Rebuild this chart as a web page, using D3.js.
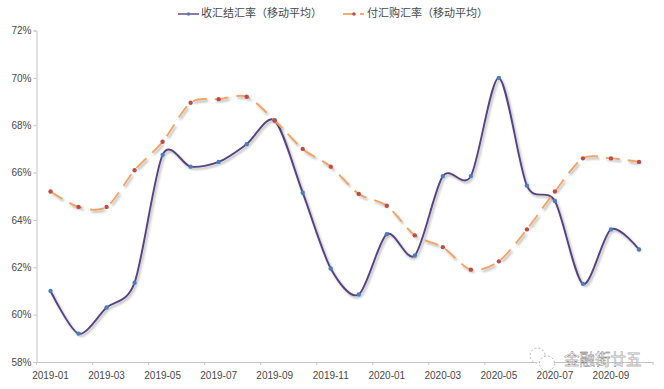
<!DOCTYPE html>
<html>
<head>
<meta charset="utf-8">
<script src="https://cdn.jsdelivr.net/npm/d3@7"></script>
<style>
  body { margin: 0; background: #fff; }
  text { font-family: "Liberation Sans", sans-serif; fill: #484848; }
  .cjk { font-family: "Noto Sans CJK SC", sans-serif; }
</style>
</head>
<body>
<div id="chart"></div>
<script>
var months = ["2019-01","2019-02","2019-03","2019-04","2019-05","2019-06","2019-07","2019-08","2019-09","2019-10","2019-11","2019-12",
              "2020-01","2020-02","2020-03","2020-04","2020-05","2020-06","2020-07","2020-08","2020-09","2020-10"];
var jieHui = [61.0,59.2,60.3,61.35,66.75,66.25,66.45,67.2,68.2,65.15,61.95,60.85,63.4,62.5,65.85,65.85,70.0,65.45,64.8,61.3,63.6,62.75];
var fuHui = [65.2,64.55,64.55,66.1,67.3,68.95,69.1,69.2,68.2,67.0,66.25,65.1,64.6,63.35,62.85,61.9,62.25,63.6,65.2,66.6,66.6,66.45];
var yTicks = [58,60,62,64,66,68,70,72];
var jieName = "收汇结汇率（移动平均）";
var fuName = "付汇购汇率（移动平均）";
var mark = "金融街廿五";

var margin = {top: 30.5, right: 11, bottom: 27, left: 36.5},
    width = 664 - margin.left - margin.right,
    height = 389 - margin.top - margin.bottom;

var root = d3.select("#chart")
  .append("svg")
    .attr("width", 664)
    .attr("height", 389)
    .style("display", "block");

var shadow = root.append("defs").append("filter")
    .attr("id", "shadow")
    .attr("x", "-5%").attr("y", "-5%")
    .attr("width", "110%").attr("height", "110%");
shadow.append("feDropShadow")
    .attr("dx", 1.5).attr("dy", 2)
    .attr("stdDeviation", 1.1)
    .attr("flood-color", "#000")
    .attr("flood-opacity", 0.3);

var svg = root.append("g")
    .attr("transform", "translate(" + margin.left + "," + margin.top + ")");

var x = d3.scaleBand()
  .domain(months)
  .range([0, width]);

var y = d3.scaleLinear()
  .domain([58, 72])
  .range([height, 0]);

// y axis
var yAxis = svg.append("g")
  .call(d3.axisLeft(y).tickValues(yTicks).tickSize(3).tickFormat(function(d) { return d + "%"; }));
yAxis.selectAll("path, line").attr("stroke", "#c4c4c4");
yAxis.selectAll("text").attr("font-size", 10).attr("x", -5);

// x axis, labels sit on the month, tick marks on the band edges
var xAxis = svg.append("g")
  .attr("transform", "translate(0," + height + ")")
  .call(d3.axisBottom(x)
    .tickValues(months.filter(function(d, i) { return i % 2 == 0; }))
    .tickSize(0)
    .tickPadding(10));
xAxis.select("path").attr("stroke", "#c4c4c4");
xAxis.selectAll("text").attr("font-size", 10);

var edges = months.filter(function(d, i) { return i % 2 == 0; }).map(function(d) { return x(d); }).concat([width]);
xAxis.selectAll(".edge")
  .data(edges)
  .enter()
  .append("line")
    .attr("class", "edge")
    .attr("x1", function(d) { return d; })
    .attr("x2", function(d) { return d; })
    .attr("y1", 0)
    .attr("y2", 3)
    .attr("stroke", "#c4c4c4");

var line = d3.line()
  .x(function(d, i) { return x(months[i]) + x.bandwidth() / 2; })
  .y(function(d) { return y(d); })
  .curve(d3.curveCardinal.tension(0.15));

function drawSeries(values, stroke, dash, width, dotFill) {
  var g = svg.append("g");
  g.append("path")
    .datum(values)
    .attr("fill", "none")
    .attr("stroke", stroke)
    .attr("stroke-width", width)
    .attr("stroke-dasharray", dash)
    .attr("filter", "url(#shadow)")
    .attr("d", line);
  g.selectAll("path.dot")
    .data(values)
    .enter()
    .append("path")
      .attr("class", "dot")
      .attr("d", d3.symbol().type(d3.symbolCircle).size(15))
      .attr("fill", dotFill)
      .attr("transform", function(d, i) {
        return "translate(" + (x(months[i]) + x.bandwidth() / 2) + "," + y(d) + ")";
      });
}

drawSeries(jieHui, "#54437f", null, 1.9, "#4a7ebb");
drawSeries(fuHui, "#f0a465", "14,8", 1.9, "#be4b48");

// legend
var legend = root.append("g");
legend.append("line").attr("x1", 178).attr("x2", 199).attr("y1", 14).attr("y2", 14)
  .attr("stroke", "#7d6c9e").attr("stroke-width", 1.8);
legend.append("path").attr("d", d3.symbol().type(d3.symbolCircle).size(10))
  .attr("transform", "translate(188.5,14)").attr("fill", "#4a7ebb");
legend.append("text").attr("class", "cjk").attr("x", 201).attr("y", 17)
  .attr("font-size", 11).text(jieName);

legend.append("line").attr("x1", 343).attr("x2", 353).attr("y1", 14).attr("y2", 14)
  .attr("stroke", "#f0a465").attr("stroke-width", 1.8);
legend.append("line").attr("x1", 360).attr("x2", 364).attr("y1", 14).attr("y2", 14)
  .attr("stroke", "#f0a465").attr("stroke-width", 1.8);
legend.append("path").attr("d", d3.symbol().type(d3.symbolCircle).size(10))
  .attr("transform", "translate(354,14)").attr("fill", "#be4b48");
legend.append("text").attr("class", "cjk").attr("x", 367).attr("y", 17)
  .attr("font-size", 11).text(fuName);

// watermark
var wm = root.append("g");
wm.selectAll("circle")
  .data([[537.5,355.5,7.5],[547,363.5,7.5]])
  .enter()
  .append("circle")
    .attr("cx", function(d) { return d[0]; })
    .attr("cy", function(d) { return d[1]; })
    .attr("r", function(d) { return d[2]; })
    .attr("fill", "#fff")
    .attr("stroke", "#888")
    .attr("stroke-width", 0.6)
    .attr("stroke-dasharray", "2,2");
wm.append("text").attr("class", "cjk").attr("x", 564).attr("y", 365)
  .attr("font-size", 15.5)
  .style("fill", "#fff").attr("stroke", "#666").attr("stroke-width", 0.35)
  .text(mark);
</script>
</body>
</html>
